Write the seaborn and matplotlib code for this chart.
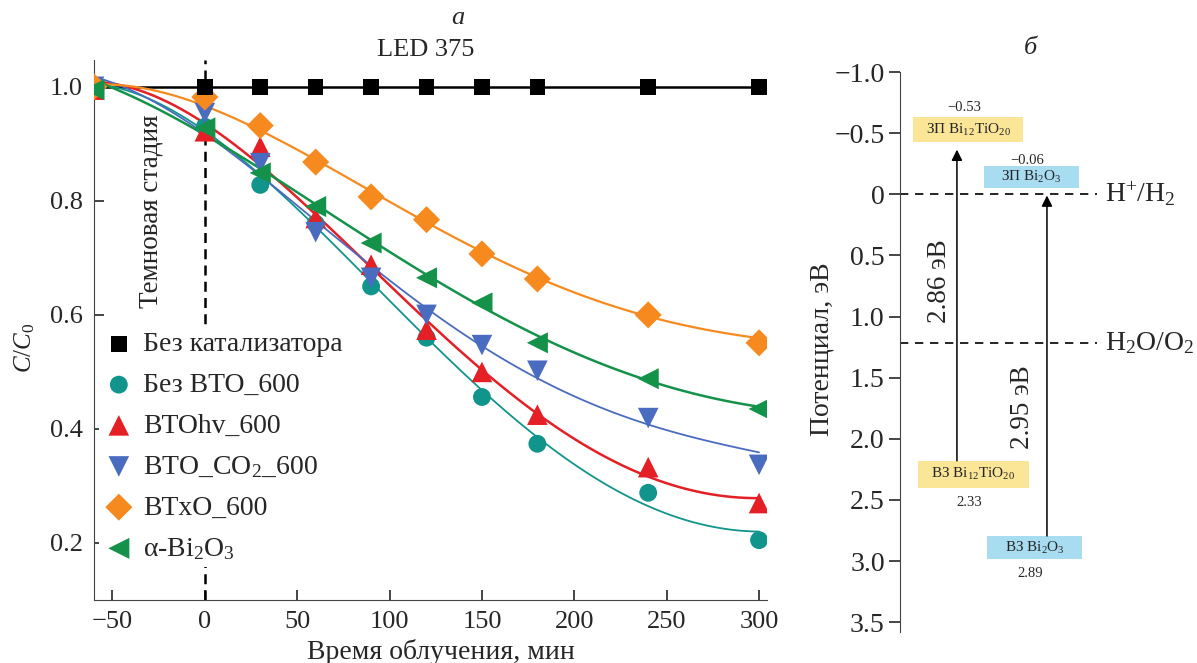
import numpy as np
import pandas as pd
import seaborn as sns
import matplotlib.pyplot as plt

# --- panel a: photodegradation kinetics (measured points) ---
time_min = [-60, 0, 30, 60, 90, 120, 150, 180, 240, 300]

no_catalyst = [1.0, 1.0, 1.0, 1.0, 1.0, 1.0, 1.0, 1.0, 1.0, 1.0]
bez_bto = [0.995, 0.930, 0.828, 0.760, 0.650, 0.560, 0.456, 0.374, 0.288, 0.205]
bto_hv = [0.995, 0.922, 0.895, 0.770, 0.688, 0.574, 0.500, 0.425, 0.333, 0.270]
bto_co2 = [1.0, 0.954, 0.866, 0.745, 0.665, 0.600, 0.547, 0.502, 0.419, 0.337]
btxo = [1.0, 0.982, 0.932, 0.868, 0.807, 0.767, 0.707, 0.663, 0.600, 0.551]
bi2o3 = [0.995, 0.928, 0.849, 0.790, 0.726, 0.665, 0.621, 0.551, 0.488, 0.435]

# fitted curves
fit_time = [-60, -30, 0, 30, 60, 90, 120, 150, 180, 210, 240, 270, 300]
fit_bez_bto = [1.012, 0.968, 0.918, 0.850, 0.762, 0.662, 0.560, 0.462, 0.378, 0.315, 0.271, 0.238, 0.215]
fit_bto_hv = [1.016, 0.976, 0.930, 0.866, 0.787, 0.690, 0.586, 0.495, 0.421, 0.364, 0.322, 0.293, 0.274]
fit_bto_co2 = [1.019, 0.974, 0.919, 0.847, 0.765, 0.685, 0.611, 0.545, 0.489, 0.444, 0.408, 0.380, 0.359]
fit_btxo = [1.007, 0.990, 0.965, 0.927, 0.875, 0.817, 0.761, 0.709, 0.664, 0.628, 0.599, 0.576, 0.558]
fit_bi2o3 = [1.012, 0.967, 0.915, 0.857, 0.795, 0.732, 0.671, 0.613, 0.562, 0.520, 0.486, 0.459, 0.438]

series_labels = ['Без BTO_600', 'BTOhv_600', 'BTO_CO$_2$_600', 'BTxO_600', 'α-Bi$_2$O$_3$']
series_values = [bez_bto, bto_hv, bto_co2, btxo, bi2o3]
series_fits = [fit_bez_bto, fit_bto_hv, fit_bto_co2, fit_btxo, fit_bi2o3]
series_markers = ['o', '^', 'v', 'D', '<']
series_colors = ['#10948c', '#e41f26', '#4a6cc0', '#f68a1f', '#15924a']
series_sizes = [165, 220, 220, 190, 230]
series_lw = [1.3, 1.8, 1.3, 1.6, 1.8]

# --- panel b: band positions (eV) ---
band_labels = ['ЗП Bi$_{12}$TiO$_{20}$', 'ЗП Bi$_2$O$_3$', 'ВЗ Bi$_{12}$TiO$_{20}$', 'ВЗ Bi$_2$O$_3$']
band_values = [-0.53, -0.06, 2.33, 2.89]
band_colors = ['#fbe597', '#a8dcf1', '#fbe597', '#a8dcf1']
redox_labels = ['H$^{+}$/H$_2$', 'H$_2$O/O$_2$']
redox_values = [0.0, 1.215]

sns.set_style('ticks')
plt.rcParams['font.family'] = ['Liberation Serif', 'DejaVu Serif']
plt.rcParams['mathtext.fontset'] = 'custom'
plt.rcParams['mathtext.rm'] = 'Liberation Serif'
plt.rcParams['mathtext.it'] = 'Liberation Serif:italic'
plt.rcParams['axes.edgecolor'] = '#444444'

fig = plt.figure(figsize=(11.97, 6.63), dpi=100)
ax = fig.add_axes([94 / 1197, 63 / 663, 673 / 1197, 540 / 663])

sns.lineplot(x=time_min, y=no_catalyst, color='black', lw=1.8, ax=ax)
sns.scatterplot(x=time_min[1:], y=no_catalyst[1:], marker='s', s=125, color='black',
                edgecolor='none', label='Без катализатора', ax=ax, zorder=4)

for lab, vals, fit, m, c, s, lw in zip(series_labels, series_values, series_fits,
                                       series_markers, series_colors, series_sizes, series_lw):
    # smooth fitted line through the read curve points
    sns.regplot(x=np.array(fit_time), y=np.array(fit), order=4, scatter=False, ci=None,
                color=c, line_kws=dict(lw=lw), ax=ax)
    sns.scatterplot(x=time_min, y=vals, marker=m, s=s, color=c, edgecolor='none',
                    label=lab, ax=ax, zorder=3)

ax.axvline(0, color='black', lw=1.8, dashes=(4, 2.5), zorder=2)

ax.set_xlim(-60, 304.3)
ax.set_ylim(0.1, 1.047)
ax.set_xticks([-50, 0, 50, 100, 150, 200, 250, 300])
ax.set_yticks([0.2, 0.4, 0.6, 0.8, 1.0])
ax.tick_params(direction='in', length=7, width=1.2, labelsize=19, pad=8)
sns.despine(ax=ax)
ax.set_xlabel('Время облучения, мин', fontsize=20)
ax.set_ylabel('$C/C_0$', fontsize=18)
ax.xaxis.set_label_coords(0.515, -0.072)
ax.yaxis.set_label_coords(-0.085, 0.467)

ax.text(-29, 0.782, 'Темновая стадия', rotation=90, ha='center', va='center', fontsize=19.5)
ax.text(119.5, 1.065, 'LED 375', ha='center', va='center', fontsize=19)
ax.text(137, 1.12, 'а', ha='center', va='center', fontsize=19, style='italic')

ax.legend(loc='upper left', bbox_to_anchor=(0.008, 0.507), fontsize=20, frameon=True,
          facecolor='white', edgecolor='none', framealpha=1, handlelength=1.0,
          handletextpad=0.36, labelspacing=0.55, borderpad=0.2, borderaxespad=0)

# --- panel b ---
ax2 = fig.add_axes([900 / 1197, 31 / 663, 197 / 1197, 560 / 663])
ax2.set_xlim(0, 1)
ax2.set_ylim(3.58, -1.0)
yt = [-1.0, -0.5, 0, 0.5, 1.0, 1.5, 2.0, 2.5, 3.0, 3.5]
ax2.set_yticks(yt)
ax2.set_yticklabels(['−1.0', '−0.5', '0', '0.5', '1.0', '1.5', '2.0', '2.5', '3.0', '3.5'])
ax2.set_xticks([])
ax2.tick_params(axis='y', direction='out', length=8, width=1.2, labelsize=20, pad=3)
sns.despine(ax=ax2, bottom=True)
ax2.set_ylabel('Потенциал, эВ', fontsize=20)
ax2.yaxis.set_label_coords(-0.335, 0.505)
ax2.text(0.66, -1.2, 'б', ha='center', va='center', fontsize=19, style='italic')

for lab, yv in zip(redox_labels, redox_values):
    ax2.axhline(yv, color='black', lw=1.2, dashes=(5, 4))
    ax2.text(1.04, yv, lab, ha='left', va='center', fontsize=20, clip_on=False)

# band boxes: (x0, x1) in axes fraction, vertical shift of box center
box_x = [(0.066, 0.624), (0.426, 0.909), (0.091, 0.655), (0.442, 0.924)]
box_shift = [0.0, -0.08, -0.04, 0.0]
box_half = [0.105, 0.09, 0.11, 0.095]
num_dy = [-0.18, -0.22, 0.2, 0.2]
for lab, v, c, (x0, x1), sh, hh, dy in zip(band_labels, band_values, band_colors,
                                          box_x, box_shift, box_half, num_dy):
    yc = v + sh
    ax2.axhspan(yc - hh, yc + hh, xmin=x0, xmax=x1, color=c, lw=0)
    ax2.text((x0 + x1) / 2, yc, lab, ha='center', va='center', fontsize=11)
    txt = f'{v:.2f}'.replace('-', '−')
    ax2.text((x0 + x1) / 2 - 0.02, yc + dy - sh if dy < 0 else yc + hh + 0.12, txt,
             ha='center', va='center', fontsize=10.5)

# band gap arrows
arrow_x = [0.289, 0.746]
for i, xa in enumerate(arrow_x):
    cb, vb = band_values[i], band_values[i + 2]
    top = cb + box_shift[i] + box_half[i] + 0.06
    bottom = vb + box_shift[i + 2] - box_half[i + 2]
    ax2.annotate('', xy=(xa, top), xytext=(xa, bottom),
                 arrowprops=dict(arrowstyle='-|>', lw=1.1, color='black',
                                 mutation_scale=16, shrinkA=0, shrinkB=0))
ax2.text(0.203, 0.71, f'{band_values[2] - band_values[0]:.2f} эВ', rotation=90,
         ha='center', va='center', fontsize=19.5)
ax2.text(0.624, 1.74, f'{band_values[3] - band_values[1]:.2f} эВ', rotation=90,
         ha='center', va='center', fontsize=19.5)

fig.savefig('out.png', dpi=100)
